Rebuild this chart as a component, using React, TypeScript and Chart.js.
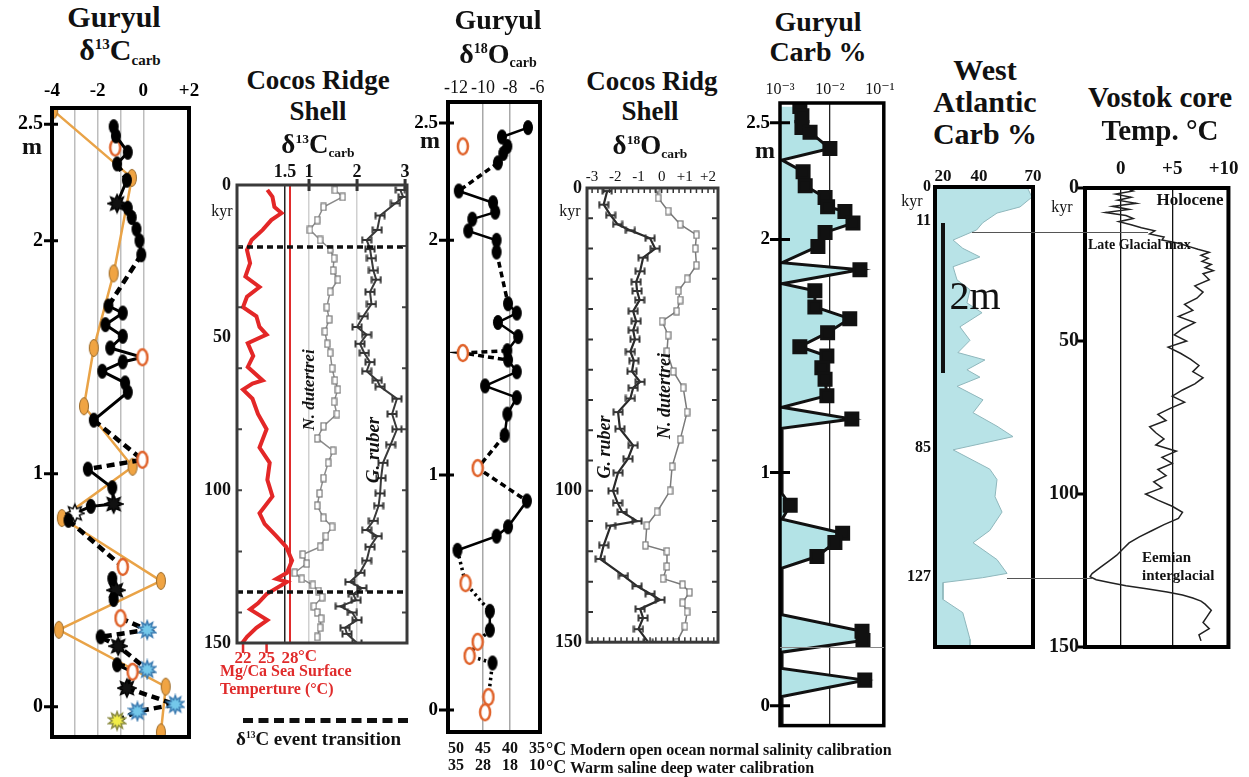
import React, { useEffect, useRef } from 'react';
import { Chart, registerables } from 'chart.js';
Chart.register(...registerables);

const SERIF = "'Liberation Serif', 'Times New Roman', 'DejaVu Serif', serif";
Chart.defaults.font.family = SERIF;

// ================= DATA =================
// Panel 1 : Guryul d13C (depth in m)
const p1SeqValue = [-1.3, -1.2, -0.68, -1.15, -0.72, -1.15, -0.68, -0.51, -0.3, -0.17, -0.09, -1.53, -0.9, -1.66, -0.9, -1.45, -0.04, -0.9, -1.8, -0.8, -0.68, -2.17, -0.04, -2.43, -1.36, -1.3, -2.3, -3.0, -3.28, -0.9, -1.36, -1.2, -1.3, -1.0, 0.17, -1.87, -1.1, 0.17, -1.15, -0.47, -0.72, 1.4, -0.26, -1.15];
const p1SeqDepth = [2.49, 2.45, 2.38, 2.33, 2.26, 2.16, 2.14, 2.1, 2.05, 2.0, 1.94, 1.72, 1.69, 1.64, 1.59, 1.54, 1.5, 1.48, 1.44, 1.39, 1.35, 1.23, 1.06, 1.02, 0.94, 0.87, 0.86, 0.83, 0.8, 0.6, 0.55, 0.5, 0.46, 0.38, 0.33, 0.3, 0.26, 0.16, 0.18, 0.15, 0.08, 0.01, -0.02, -0.06];
const p1SeqMarker = ['B', 'B', 'B', 'B', 'B', 'S', 'B', 'B', 'B', 'B', 'B', 'B', 'B', 'B', 'B', 'B', 'O', 'B', 'B', 'B', 'B', 'B', 'O', 'B', 'B', 'S', 'B', 'W', 'B', 'O', 'B', 'S', 'B', 'O', 'L', 'B', 'S', 'L', 'B', 'O', 'S', 'L', 'L', 'Y'];
const p1SeqLink = ['s', 's', 's', 'd', 's', 's', 's', 's', 's', 's', 'd', 's', 's', 's', 's', 's', 's', 's', 's', 's', 's', 'd', 'd', 's', 's', 's', 's', 's', 'd', 'n', 's', 's', 'n', 'd', 'd', 'd', 'd', 'd', 's', 's', 'd', 'd', 'd', 'n'];
const p1OrangeValue = [-3.95, -0.5, -1.3, -2.17, -2.6, -0.47, -3.57, 0.77, -3.7, 0.98, 0.77];
const p1OrangeDepth = [2.56, 2.27, 1.86, 1.54, 1.29, 1.03, 0.81, 0.54, 0.33, 0.086, -0.11];
const p1OpenValue = [-1.23];
const p1OpenDepth = [2.4];
const depthTicks = [0, 1, 2, 2.5];
const p1XTicks = [-4, -3, -2, -1, 0, 1, 2];
const p1XLabels: Record<string, string> = { '-4': '-4', '-2': '-2', '0': '0', '2': '+2' };
const p1GridAt = [-3, -2, -1, 0];

// Panel 2 : Cocos Ridge shell d13C (age kyr)
const p2SstAge = [1.6, 3.9, 7.2, 9.2, 11.5, 14.7, 18, 21.3, 25.6, 30, 33.4, 36.6, 40, 43, 46.5, 49, 51.8, 56, 59.6, 64, 65, 67, 70, 75, 80, 86, 91, 96.6, 102, 107.5, 111, 115, 118.5, 123, 127, 129, 130, 134, 137, 139, 142.5, 145, 148, 150];
const p2Sst = [25.1, 25.75, 26.0, 26.9, 25.6, 24.5, 23.1, 22.5, 22.9, 22.3, 24.1, 22.5, 22.0, 23.7, 24.1, 25.0, 22.6, 23.3, 22.6, 24.5, 23.2, 22.0, 23.2, 23.9, 25.0, 24.1, 25.4, 25.1, 25.75, 24.1, 24.75, 26.25, 27.5, 28.25, 27.6, 26.25, 27.6, 25.0, 23.9, 22.9, 25.1, 23.7, 22.5, 21.9];
const p2DutAge = [1.6, 3.9, 7.2, 11.5, 14.7, 18, 21, 24, 28, 31, 35, 40, 44, 48, 52, 55, 60, 64, 67, 71, 75, 79, 83, 87, 91, 96, 101, 105, 109, 112, 115, 118.5, 121, 124, 127, 129, 131, 133, 135, 138, 140, 142, 145, 148];
const p2Dut = [1.54, 1.7, 1.3, 1.17, 1.02, 1.23, 1.44, 1.52, 1.5, 1.6, 1.44, 1.37, 1.42, 1.33, 1.38, 1.44, 1.48, 1.54, 1.6, 1.52, 1.58, 1.3, 1.17, 1.5, 1.4, 1.3, 1.22, 1.17, 1.3, 1.48, 1.35, 1.23, 0.87, 0.95, 0.7, 0.85, 1.08, 1.2, 1.27, 1.1, 1.17, 1.25, 1.23, 1.17];
const p2RubAge = [1.6, 3.9, 6, 10, 14.7, 18, 21, 24, 28, 31, 35, 39, 43, 46.5, 49, 52, 55, 58, 61, 64, 66, 70, 75, 80, 85, 91, 96, 101, 105, 110, 113, 115, 118.5, 123, 127, 130, 132, 134, 136, 138, 140, 142.5, 145, 147, 150];
const p2Rub = [2.9, 2.96, 2.8, 2.48, 2.42, 2.2, 2.27, 2.3, 2.34, 2.4, 2.27, 2.3, 2.13, 2.0, 2.2, 2.06, 2.15, 2.27, 2.2, 2.42, 2.48, 2.83, 2.73, 2.83, 2.7, 2.54, 2.5, 2.48, 2.45, 2.34, 2.2, 2.42, 2.27, 2.2, 2.06, 1.85, 2.1, 1.92, 1.98, 1.65, 1.9, 2.0, 1.75, 1.79, 2.0];
const p2EventAges = [20.3, 133.3];
const p2XTicks = [0.5, 1, 2, 3];
const p2XLabels = ['1.5', '1', '2', '3'];
const p2SstTicks = [22, 25, 28];
const p2SstLabels = ['22', '25', '28'];
const p2AgeTicks = [0, 50, 100, 150];
const p2MinorAges = [20, 40, 60, 80, 100, 120, 140];

// Panel 3 : Guryul d18O
const p3SeqValue = [-6.67, -8.6, -8.2, -8.5, -8.9, -11.8, -9.26, -9.1, -10.8, -11.1, -9.0, -9.0, -8.15, -7.5, -8.9, -7.4, -8.2, -11.5, -8.15, -7.5, -9.85, -7.5, -8.2, -8.4, -10.4, -6.75, -8.15, -9.0, -11.9, -11.3, -9.5, -9.5, -10.4, -11.0, -9.3, -9.6, -9.85];
const p3SeqDepth = [2.48, 2.44, 2.4, 2.37, 2.33, 2.21, 2.16, 2.12, 2.09, 2.04, 2.0, 1.95, 1.73, 1.69, 1.65, 1.59, 1.53, 1.52, 1.49, 1.44, 1.38, 1.33, 1.26, 1.17, 1.03, 0.89, 0.78, 0.74, 0.68, 0.54, 0.42, 0.34, 0.29, 0.23, 0.2, 0.055, -0.01];
const p3SeqMarker = ['B', 'B', 'B', 'B', 'B', 'B', 'B', 'B', 'B', 'B', 'B', 'B', 'B', 'B', 'B', 'B', 'B', 'O', 'B', 'B', 'B', 'B', 'B', 'B', 'O', 'B', 'B', 'B', 'B', 'O', 'B', 'B', 'O', 'O', 'B', 'O', 'O'];
const p3SeqLink = ['s', 's', 's', 's', 'd', 's', 's', 's', 's', 's', 's', 'd', 's', 's', 's', 's', 'd', 'd', 's', 's', 's', 's', 's', 'd', 'd', 's', 's', 's', 't', 't', 's', 't', 't', 't', 't', 's', 'n'];
const p3OpenValue = [-11.5];
const p3OpenDepth = [2.4];
const p3XTicks = [-12, -10, -8, -6];
const p3GridAt = [-10, -8];
const p3TempTicks = [50, 45, 40, 35];
const p3TempLabels = [['50', '35'], ['45', '28'], ['40', '18'], ['35', '10']];

// Panel 4 : Cocos Ridge shell d18O
const p4RubAge = [1, 5.5, 9, 12, 14, 16.6, 20, 23, 27.5, 31, 34, 37, 40.7, 44, 47, 50, 54, 57, 60.6, 64, 66, 69.5, 74, 79.5, 85, 89.4, 94, 100, 104, 107, 110, 111.5, 118, 122.5, 128, 131.5, 134, 136, 139, 142, 145.7, 150];
const p4Rub = [-2.35, -2.5, -2.2, -1.9, -1.35, -0.5, -0.28, -0.8, -0.93, -1.1, -1.06, -0.95, -1.23, -1.1, -1.23, -1.15, -1.35, -1.2, -1.28, -0.93, -1.23, -1.35, -1.88, -1.8, -1.23, -1.45, -1.88, -2.1, -1.9, -1.7, -1.06, -2.2, -2.5, -2.65, -1.65, -1.06, -0.5, -0.07, -0.93, -0.8, -1.0, -0.58];
const p4DutAge = [0, 3.3, 7.6, 12, 15.5, 20, 25.5, 30, 34, 37, 40.7, 44, 48.6, 54, 60.6, 66, 74, 83, 92, 100, 107, 111.5, 118, 120, 125, 129, 131, 133.5, 137, 140, 144.7, 150];
const p4Dut = [-0.2, -0.15, 0.28, 0.8, 1.5, 1.45, 1.5, 1.1, 0.72, 0.8, 0.65, 0.02, 0.28, 0.23, 0.5, 0.93, 1.1, 0.8, 0.45, 0.36, -0.2, -0.64, -0.7, 0.23, 0.23, 0.06, 0.9, 1.2, 0.9, 1.1, 1.0, 0.65];
const p4XLabels: Record<string, string> = { '-3': '-3', '-2': '-2', '-1': '-1', '0': '0', '1': '+1', '2': '+2' };
const p4AgeLabels = [0, 100, 150];

// Panel 5 : Guryul Carb %
const p5Depth = [2.57, 2.53, 2.48, 2.46, 2.39, 2.34, 2.29, 2.23, 2.18, 2.14, 2.12, 2.07, 2.03, 1.97, 1.9, 1.87, 1.81, 1.78, 1.71, 1.66, 1.6, 1.54, 1.5, 1.45, 1.4, 1.33, 1.28, 1.23, 1.19, 0.91, 0.86, 0.8, 0.74, 0.7, 0.64, 0.59, 0.39, 0.32, 0.28, 0.23, 0.16, 0.11, 0.04, -0.08];
const p5Carb = [2.5e-3, 2.75e-3, 2.75e-3, 4e-3, 1e-2, 1.1e-3, 2.9e-3, 3.2e-3, 8e-3, 9e-3, 2e-2, 2.9e-2, 8e-3, 5.75e-3, 1.1e-3, 4e-2, 1.1e-3, 5e-3, 5e-3, 2.5e-2, 9e-3, 2.5e-3, 8.7e-3, 6.9e-3, 8e-3, 8.7e-3, 1.1e-3, 2.75e-2, 1.1e-3, 1.1e-3, 1.6e-3, 1.1e-3, 1.8e-2, 1.26e-2, 5.5e-3, 1.1e-3, 1.1e-3, 4.4e-2, 4.6e-2, 1.1e-3, 1.1e-3, 5e-2, 1.1e-3, 1.1e-3];
const p5XTicks = [1e-3, 1e-2, 1e-1];
const p5XLabels = ['10⁻³', '10⁻²', '10⁻¹'];

// Panel 6 : West Atlantic Carb %
const p6Age = [0, 3.3, 6.5, 8.5, 11.7, 14, 17.3, 20, 22.8, 26, 30.3, 33.5, 37.8, 41, 45.6, 50, 54, 56.4, 59.6, 62, 65, 69.4, 73.6, 78, 81.4, 85.7, 92, 95.4, 101, 106, 112, 116, 121.5, 126, 127.4, 129, 134.5, 138.8, 147.5, 150];
const p6Carb = [66.7, 69.4, 62.8, 50, 42, 38.7, 25.6, 31, 40.5, 25.6, 27.8, 35, 33.3, 41.7, 29.4, 35, 28.3, 43.3, 33.3, 40.5, 27.8, 42.2, 36.7, 50, 58.9, 25.6, 46, 50, 48.9, 52.8, 46, 36.7, 50, 55.6, 42, 20, 20, 31, 35, 35];
const p6XTicks = [20, 40, 70];
const p6AgeTicks = [0, 11, 85, 127];

// Panel 7 : Vostok temperature
const p7Age = [0, 1, 2, 3, 4, 5, 6, 7, 8, 9, 10, 11, 12, 13, 14, 15, 16, 17, 18, 19, 20, 21, 22, 23, 24, 25, 26, 27, 28, 30, 32, 34, 36, 38, 40, 42, 44, 46, 48, 50, 52, 54, 56, 58, 60, 62, 64, 66, 68, 70, 72, 74, 76, 78, 80, 82, 84, 86, 88, 90, 92, 94, 96, 98, 100, 102, 104, 106, 108, 110, 112, 114, 116, 118, 120, 122, 124, 126, 127, 128, 129, 130, 131, 132, 133, 134, 135, 136, 138, 140, 142, 144, 146, 148];
const p7Temp = [0.5, 1.2, -0.5, 1.0, -0.3, 1.5, -0.8, 0.8, -1.5, 0.5, 1.2, -0.2, 1.0, 2.0, 3.3, 2.8, 4.2, 4.0, 5.5, 6.5, 7.5, 8.6, 7.8, 8.5, 7.9, 8.8, 8.2, 9.0, 8.0, 8.6, 7.2, 8.0, 7.4, 6.2, 7.0, 5.6, 7.2, 6.0, 5.2, 6.4, 4.6, 5.8, 6.8, 7.6, 7.0, 8.0, 7.2, 6.0, 5.0, 6.2, 4.8, 3.6, 4.4, 2.8, 3.4, 4.2, 3.4, 5.4, 4.0, 5.0, 3.6, 4.4, 3.2, 4.0, 2.4, 3.6, 5.0, 6.0, 5.6, 4.2, 3.0, 1.8, 0.8, 0.2, -0.4, -1.2, -2.0, -2.8, -3.0, -2.4, -1.0, 0.5, 2.5, 4.5, 6.0, 7.0, 7.8, 8.2, 8.8, 8.4, 8.0, 8.6, 7.6, 7.8];
const p7XTicks = [0, 5, 10];
const p7XLabels = ['0', '+5', '+10'];
const ageTicks = [0, 50, 100, 150];

// ================= HELPERS =================
const zip = (xs: number[], ys: number[]) => xs.map((x, i) => ({ x, y: ys[i] }));
const setTicks = (vals: number[]) => (s: any) => { s.ticks = vals.map((v) => ({ value: v })); };
const fixW = (w: number) => (s: any) => { s.width = w; };
const fixH = (h: number) => (s: any) => { s.height = h; };
const font = (size: number, bold = true, lineHeight = 1.2) => ({ family: SERIF, size, weight: bold ? 'bold' : 'normal', lineHeight });

function mk(w: number, h: number, draw: (g: CanvasRenderingContext2D) => void) {
  const c = document.createElement('canvas');
  c.width = w; c.height = h;
  draw(c.getContext('2d') as CanvasRenderingContext2D);
  return c;
}
function starPath(g: CanvasRenderingContext2D, cx: number, cy: number, n: number, ro: number, ri: number) {
  g.beginPath();
  for (let i = 0; i < 2 * n; i++) {
    const r = i % 2 ? ri : ro;
    const a = -Math.PI / 2 + (i * Math.PI) / n;
    g.lineTo(cx + r * Math.cos(a), cy + r * Math.sin(a));
  }
  g.closePath();
}
let markerCache: any = null;
function markers() {
  if (markerCache) return markerCache;
  const ell = (w: number, h: number, rx: number, ry: number, fill: string, stroke: string | null, lw: number) =>
    mk(w, h, (g) => {
      g.beginPath(); g.ellipse(w / 2, h / 2, rx, ry, 0, 0, Math.PI * 2);
      g.fillStyle = fill; g.fill();
      if (stroke) { g.strokeStyle = stroke; g.lineWidth = lw; g.stroke(); }
    });
  const star = (fill: string, stroke: string, n: number) =>
    mk(20, 22, (g) => { starPath(g, 10, 11, n, 9, 5); g.fillStyle = fill; g.fill(); g.strokeStyle = stroke; g.lineWidth = 1.5; g.stroke(); });
  markerCache = {
    B: ell(12, 17, 5, 7.5, '#000', null, 0),
    O: ell(14, 20, 5, 8, '#fff', '#e0632b', 2.5),
    F: ell(12, 20, 4.5, 8.5, '#f0a443', '#9a6a2a', 1),
    S: star('#111', '#000', 8),
    W: star('#fff', '#000', 8),
    L: star('#74c8ea', '#3a7ab0', 10),
    Y: star('#f2ee48', '#8a8a40', 10),
    rub: mk(12, 8, (g) => {
      g.strokeStyle = '#333'; g.lineWidth = 2;
      g.beginPath(); g.moveTo(1, 4); g.lineTo(11, 4); g.moveTo(1.5, 0.5); g.lineTo(1.5, 7.5); g.moveTo(10.5, 0.5); g.lineTo(10.5, 7.5); g.stroke();
    }),
    dut: mk(7, 9, (g) => { g.fillStyle = '#fff'; g.strokeStyle = '#777'; g.lineWidth = 1.2; g.fillRect(1, 1, 5, 7); g.strokeRect(1, 1, 5, 7); }),
  };
  return markerCache;
}

type TickItem = { scale: string; edges: string[]; out: number; inn: number; values?: number[]; color: string; width: number };
function framePlugin(border: number, color: string, items: TickItem[]) {
  return {
    id: 'frame',
    afterDatasetsDraw(chart: any) {
      const { ctx, chartArea: a } = chart;
      ctx.save();
      for (const it of items) {
        const sc = chart.scales[it.scale];
        const vals = it.values || sc.ticks.map((t: any) => t.value);
        ctx.strokeStyle = it.color; ctx.lineWidth = it.width;
        ctx.beginPath();
        for (const v of vals) {
          const p = sc.getPixelForValue(v);
          for (const e of it.edges) {
            if (e === 'top') { ctx.moveTo(p, a.top - it.out); ctx.lineTo(p, a.top + it.inn); }
            if (e === 'bottom') { ctx.moveTo(p, a.bottom + it.out); ctx.lineTo(p, a.bottom - it.inn); }
            if (e === 'left') { ctx.moveTo(a.left - it.out, p); ctx.lineTo(a.left + it.inn, p); }
            if (e === 'right') { ctx.moveTo(a.right + it.out, p); ctx.lineTo(a.right - it.inn, p); }
          }
        }
        ctx.stroke();
      }
      ctx.strokeStyle = color; ctx.lineWidth = border;
      ctx.strokeRect(a.left, a.top, a.right - a.left, a.bottom - a.top);
      ctx.restore();
    },
  };
}

type Geo = { L: number; T: number; R: number; B: number; ml: number; mt: number; mr: number; mb: number };
const canvasBox = (g: Geo) => ({ left: g.L - g.ml, top: g.T - g.mt, width: g.R - g.L + g.ml + g.mr, height: g.B - g.T + g.mt + g.mb });

const noGrid = { drawOnChartArea: false, drawTicks: false };
const noBorder = { display: false };

// ================= PANEL CONFIGS =================
const G1: Geo = { L: 52, T: 108, R: 189, B: 738, ml: 50, mt: 40, mr: 20, mb: 20 };
function cfg1() {
  const m = markers();
  return {
    type: 'scatter',
    data: {
      datasets: [
        {
          data: zip(p1SeqValue, p1SeqDepth), showLine: true, borderColor: '#000', borderWidth: 3, order: 1,
          pointStyle: (c: any) => m[p1SeqMarker[c.dataIndex]], pointRadius: 5,
          segment: {
            borderDash: (c: any) => (p1SeqLink[c.p0DataIndex] === 'd' ? [8, 5] : undefined),
            borderWidth: (c: any) => (p1SeqLink[c.p0DataIndex] === 'd' ? 4.5 : undefined),
            borderColor: (c: any) => (p1SeqLink[c.p0DataIndex] === 'n' ? 'rgba(0,0,0,0)' : undefined),
          },
        },
        { data: zip(p1OpenValue, p1OpenDepth), pointStyle: m.O, pointRadius: 5, order: 2 },
        { data: zip(p1OrangeValue, p1OrangeDepth), showLine: true, borderColor: '#e9a347', borderWidth: 2.5, pointStyle: m.F, pointRadius: 5, order: 3 },
      ],
    },
    options: {
      responsive: false, animation: false, events: [],
      layout: { padding: { left: 0, top: 0, right: G1.mr, bottom: G1.mb } },
      plugins: { legend: { display: false }, tooltip: { enabled: false } },
      scales: {
        x: {
          type: 'linear', position: 'top', min: -4, max: 2, afterBuildTicks: setTicks(p1XTicks), afterFit: fixH(G1.mt),
          ticks: { callback: (v: number) => p1XLabels[String(v)] ?? '', font: font(19), color: '#000', padding: 6, maxRotation: 0, autoSkip: false },
          grid: { color: (c: any) => (c.tick && p1GridAt.includes(c.tick.value) ? '#bdbdbd' : 'rgba(0,0,0,0)'), lineWidth: 1.5, drawTicks: false },
          border: noBorder,
        },
        y: {
          type: 'linear', min: -0.13, max: 2.57, afterBuildTicks: setTicks(depthTicks), afterFit: fixW(G1.ml),
          ticks: { font: font(20), color: '#000', padding: 9, autoSkip: false },
          grid: noGrid, border: noBorder,
        },
      },
    },
    plugins: [framePlugin(4, '#000', [{ scale: 'y', edges: ['left'], out: 8, inn: 6, color: '#000', width: 3 }])],
  };
}

const G2: Geo = { L: 237, T: 185, R: 407, B: 643, ml: 40, mt: 25, mr: 15, mb: 34 };
function cfg2() {
  const m = markers();
  return {
    type: 'scatter',
    data: {
      datasets: [
        ...p2EventAges.map((a) => ({ data: [{ x: -0.5, y: a }, { x: 3.04, y: a }], showLine: true, borderColor: '#111', borderWidth: 3.5, borderDash: [6, 4], pointRadius: 0, order: 0 })),
        { data: zip(p2Sst, p2SstAge), xAxisID: 'x2', showLine: true, borderColor: '#e32727', borderWidth: 4, pointRadius: 0, order: 1 },
        { data: zip(p2Rub, p2RubAge), showLine: true, borderColor: '#3a3a3a', borderWidth: 2, pointStyle: m.rub, pointRadius: 4, order: 2 },
        { data: zip(p2Dut, p2DutAge), showLine: true, borderColor: '#8a8a8a', borderWidth: 1.5, pointStyle: m.dut, pointRadius: 3, order: 3 },
      ],
    },
    options: {
      responsive: false, animation: false, events: [],
      layout: { padding: { left: 0, top: 0, right: G2.mr, bottom: 0 } },
      plugins: { legend: { display: false }, tooltip: { enabled: false } },
      scales: {
        x: {
          type: 'linear', position: 'top', min: -0.5, max: 3.04, afterBuildTicks: setTicks(p2XTicks), afterFit: fixH(G2.mt),
          ticks: { callback: (_v: number, i: number) => p2XLabels[i], font: font(18), color: '#111', padding: 2, maxRotation: 0, autoSkip: false },
          grid: {
            color: (c: any) => (!c.tick ? 'rgba(0,0,0,0)' : c.tick.value === 0.5 ? '#222' : c.tick.value < 3 ? '#d0d0d0' : 'rgba(0,0,0,0)'),
            lineWidth: 1.5, drawTicks: false,
          },
          border: noBorder,
        },
        x2: {
          type: 'linear', position: 'bottom', min: 21.23, max: 42.9, afterBuildTicks: setTicks(p2SstTicks), afterFit: fixH(G2.mb),
          ticks: { callback: (_v: number, i: number) => p2SstLabels[i], font: font(17), color: '#e02b2b', padding: 5, maxRotation: 0, autoSkip: false },
          grid: { color: (c: any) => (c.tick && c.tick.value === 28 ? '#e02b2b' : 'rgba(0,0,0,0)'), lineWidth: 2, drawTicks: false },
          border: noBorder,
        },
        y: {
          type: 'linear', reverse: true, min: 0, max: 150, afterBuildTicks: setTicks(p2AgeTicks), afterFit: fixW(G2.ml),
          ticks: { font: font(18), color: '#111', padding: 6, autoSkip: false },
          grid: noGrid, border: noBorder,
        },
      },
    },
    plugins: [framePlugin(3, '#3a3a3a', [
      { scale: 'x', edges: ['top'], out: 6, inn: 6, values: [1, 2, 3], color: '#333', width: 3 },
      { scale: 'x2', edges: ['bottom'], out: 10, inn: 0, values: [22, 25], color: '#e02b2b', width: 2.5 },
      { scale: 'y', edges: ['left', 'right'], out: 0, inn: 5, values: p2MinorAges, color: '#444', width: 2 },
    ])],
  };
}

const G3: Geo = { L: 448, T: 102, R: 540, B: 732, ml: 48, mt: 30, mr: 15, mb: 45 };
function cfg3() {
  const m = markers();
  return {
    type: 'scatter',
    data: {
      datasets: [
        {
          data: zip(p3SeqValue, p3SeqDepth), showLine: true, borderColor: '#000', borderWidth: 2.5,
          pointStyle: (c: any) => m[p3SeqMarker[c.dataIndex]], pointRadius: 5,
          segment: {
            borderDash: (c: any) => (p3SeqLink[c.p0DataIndex] === 'd' ? [6, 4] : p3SeqLink[c.p0DataIndex] === 't' ? [2.5, 3.5] : undefined),
            borderWidth: (c: any) => (p3SeqLink[c.p0DataIndex] === 'd' || p3SeqLink[c.p0DataIndex] === 't' ? 3.5 : undefined),
            borderColor: (c: any) => (p3SeqLink[c.p0DataIndex] === 'n' ? 'rgba(0,0,0,0)' : undefined),
          },
        },
        { data: zip(p3OpenValue, p3OpenDepth), pointStyle: m.O, pointRadius: 5 },
      ],
    },
    options: {
      responsive: false, animation: false, events: [],
      layout: { padding: { left: 0, top: 0, right: G3.mr, bottom: 0 } },
      plugins: { legend: { display: false }, tooltip: { enabled: false } },
      scales: {
        x: {
          type: 'linear', position: 'top', min: -12.6, max: -5.78, afterBuildTicks: setTicks(p3XTicks), afterFit: fixH(G3.mt),
          ticks: { font: font(18, false), color: '#111', padding: 3, maxRotation: 0, autoSkip: false },
          grid: { color: (c: any) => (c.tick && p3GridAt.includes(c.tick.value) ? '#a8a8a8' : 'rgba(0,0,0,0)'), lineWidth: 1.5, drawTicks: false },
          border: noBorder,
        },
        x2: {
          type: 'linear', position: 'bottom', reverse: true, min: 34.45, max: 51.5, afterBuildTicks: setTicks(p3TempTicks), afterFit: fixH(G3.mb),
          ticks: { callback: (_v: number, i: number) => p3TempLabels[i], font: font(16, true, 1.08), color: '#111', padding: 8, maxRotation: 0, autoSkip: false },
          grid: noGrid, border: noBorder,
        },
        y: {
          type: 'linear', min: -0.094, max: 2.589, afterBuildTicks: setTicks(depthTicks), afterFit: fixW(G3.ml),
          ticks: { font: font(19), color: '#000', padding: 10, autoSkip: false },
          grid: noGrid, border: noBorder,
        },
      },
    },
    plugins: [framePlugin(4, '#000', [{ scale: 'y', edges: ['left'], out: 9, inn: 6, color: '#000', width: 3 }])],
  };
}

const G4: Geo = { L: 587, T: 188, R: 718, B: 643, ml: 40, mt: 22, mr: 15, mb: 15 };
function cfg4() {
  const m = markers();
  return {
    type: 'scatter',
    data: {
      datasets: [
        { data: zip(p4Rub, p4RubAge), showLine: true, borderColor: '#2a2a2a', borderWidth: 2.2, pointStyle: m.rub, pointRadius: 4 },
        { data: zip(p4Dut, p4DutAge), showLine: true, borderColor: '#7a7a7a', borderWidth: 1.5, pointStyle: m.dut, pointRadius: 3 },
      ],
    },
    options: {
      responsive: false, animation: false, events: [],
      layout: { padding: { left: 0, top: 0, right: G4.mr, bottom: G4.mb } },
      plugins: { legend: { display: false }, tooltip: { enabled: false } },
      scales: {
        x: {
          type: 'linear', position: 'top', min: -3.22, max: 2.43, afterFit: fixH(G4.mt),
          afterBuildTicks: (s: any) => { const t = []; for (let v = -3; v <= 2.3; v += 0.25) t.push({ value: Math.round(v * 100) / 100 }); s.ticks = t; },
          ticks: { callback: (v: number) => p4XLabels[String(v)] ?? '', font: font(15, false), color: '#111', padding: 2, maxRotation: 0, autoSkip: false },
          grid: noGrid, border: noBorder,
        },
        y: {
          type: 'linear', reverse: true, min: 0, max: 150, afterFit: fixW(G4.ml),
          afterBuildTicks: (s: any) => { const t = []; for (let v = 0; v <= 150; v += 10) t.push({ value: v }); s.ticks = t; },
          ticks: { callback: (v: number) => (p4AgeLabels.includes(v) ? String(v) : ''), font: font(18), color: '#111', padding: 5, autoSkip: false },
          grid: noGrid, border: noBorder,
        },
      },
    },
    plugins: [framePlugin(3, '#3a3a3a', [
      { scale: 'x', edges: ['top', 'bottom'], out: 0, inn: 5, color: '#333', width: 1.5 },
      { scale: 'y', edges: ['left', 'right'], out: 0, inn: 6, color: '#333', width: 2 },
    ])],
  };
}

const G5: Geo = { L: 780, T: 103, R: 884, B: 732, ml: 45, mt: 30, mr: 15, mb: 15 };
function cfg5() {
  return {
    type: 'scatter',
    data: {
      datasets: [
        {
          data: zip(p5Carb, p5Depth), showLine: true, borderColor: '#111', borderWidth: 3,
          fill: { value: 1e-3 }, backgroundColor: '#b3e3e6',
          pointStyle: 'rect', pointBackgroundColor: '#111', pointBorderColor: '#111',
          pointRadius: (c: any) => (c.raw && c.raw.x > 1.2e-3 ? 8.5 : 0),
        },
      ],
    },
    options: {
      responsive: false, animation: false, events: [], indexAxis: 'y',
      layout: { padding: { left: 0, top: 0, right: G5.mr, bottom: G5.mb } },
      plugins: { legend: { display: false }, tooltip: { enabled: false }, filler: { propagate: false } },
      scales: {
        x: {
          type: 'logarithmic', position: 'top', min: 1e-3, max: 0.1202, afterBuildTicks: setTicks(p5XTicks), afterFit: fixH(G5.mt),
          ticks: { callback: (_v: number, i: number) => p5XLabels[i], font: font(16, false), color: '#111', padding: 4, maxRotation: 0, autoSkip: false },
          grid: { color: (c: any) => (c.tick && c.tick.value === 1e-2 ? '#222' : 'rgba(0,0,0,0)'), lineWidth: 1.3, drawTicks: false },
          border: noBorder,
        },
        y: {
          type: 'linear', min: -0.085, max: 2.585, afterBuildTicks: setTicks(depthTicks), afterFit: fixW(G5.ml),
          ticks: { font: font(19), color: '#000', padding: 10, autoSkip: false },
          grid: noGrid, border: noBorder,
        },
      },
    },
    plugins: [framePlugin(3.5, '#000', [{ scale: 'y', edges: ['left'], out: 10, inn: 10, color: '#000', width: 3 }])],
  };
}

const G6: Geo = { L: 935, T: 187, R: 1033, B: 647, ml: 35, mt: 22, mr: 15, mb: 15 };
function cfg6() {
  return {
    type: 'scatter',
    data: {
      datasets: [
        { data: zip(p6Carb, p6Age), showLine: true, borderColor: '#8fb7bc', borderWidth: 1, fill: { value: 15.56 }, backgroundColor: '#b8e3e7', pointRadius: 0 },
      ],
    },
    options: {
      responsive: false, animation: false, events: [], indexAxis: 'y',
      layout: { padding: { left: 0, top: 0, right: G6.mr, bottom: G6.mb } },
      plugins: { legend: { display: false }, tooltip: { enabled: false } },
      scales: {
        x: {
          type: 'linear', position: 'top', min: 15.56, max: 70, afterBuildTicks: setTicks(p6XTicks), afterFit: fixH(G6.mt),
          ticks: { font: font(17), color: '#111', padding: 0, maxRotation: 0, autoSkip: false },
          grid: noGrid, border: noBorder,
        },
        y: {
          type: 'linear', reverse: true, min: 0, max: 150, afterBuildTicks: setTicks(p6AgeTicks), afterFit: fixW(G6.ml),
          ticks: { font: font(16), color: '#111', padding: 4, autoSkip: false },
          grid: noGrid, border: noBorder,
        },
      },
    },
    plugins: [framePlugin(4, '#000', [])],
  };
}

const G7: Geo = { L: 1085, T: 188, R: 1233, B: 650, ml: 45, mt: 28, mr: 14, mb: 15 };
function cfg7() {
  return {
    type: 'scatter',
    data: {
      datasets: [{ data: zip(p7Temp, p7Age), showLine: true, borderColor: '#222', borderWidth: 1.5, pointRadius: 0 }],
    },
    options: {
      responsive: false, animation: false, events: [],
      layout: { padding: { left: 0, top: 0, right: G7.mr, bottom: G7.mb } },
      plugins: { legend: { display: false }, tooltip: { enabled: false } },
      scales: {
        x: {
          type: 'linear', position: 'top', min: -3.49, max: 10.47, afterBuildTicks: setTicks(p7XTicks), afterFit: fixH(G7.mt),
          ticks: { callback: (_v: number, i: number) => p7XLabels[i], font: font(19), color: '#111', padding: 8, maxRotation: 0, autoSkip: false },
          grid: { color: (c: any) => (c.tick && c.tick.value < 10 ? '#111' : 'rgba(0,0,0,0)'), lineWidth: 1.3, drawTicks: false },
          border: noBorder,
        },
        y: {
          type: 'linear', reverse: true, min: 0, max: 150, afterBuildTicks: setTicks(ageTicks), afterFit: fixW(G7.ml),
          ticks: { font: font(20), color: '#111', padding: 6, autoSkip: false },
          grid: noGrid, border: noBorder,
        },
      },
    },
    plugins: [framePlugin(4, '#000', [{ scale: 'y', edges: ['left'], out: 7, inn: 0, color: '#000', width: 3 }])],
  };
}

// ================= COMPONENTS =================
function Panel({ geo, make }: { geo: Geo; make: () => any }) {
  const ref = useRef<HTMLCanvasElement | null>(null);
  const box = canvasBox(geo);
  useEffect(() => {
    const chart = new Chart(ref.current as HTMLCanvasElement, make());
    return () => chart.destroy();
  }, []);
  return <canvas ref={ref} width={box.width} height={box.height} style={{ position: 'absolute', left: box.left, top: box.top, width: box.width, height: box.height }} />;
}

function Txt(props: { x: number; y: number; size?: number; bold?: boolean; italic?: boolean; color?: string; align?: string; rotate?: number; children: any }) {
  const { x, y, size = 18, bold = true, italic = false, color = '#111', align = 'center', rotate = 0, children } = props;
  const tx = align === 'center' ? '-50%' : align === 'right' ? '-100%' : '0';
  return (
    <div style={{ position: 'absolute', left: x, top: y, transform: `translate(${tx}, -50%) rotate(${rotate}deg)`, fontFamily: SERIF, fontSize: size, fontWeight: bold ? 700 : 400, fontStyle: italic ? 'italic' : 'normal', color, whiteSpace: 'nowrap', lineHeight: 1 }}>
      {children}
    </div>
  );
}
const Sup = ({ c }: { c: string }) => <span style={{ fontSize: '0.5em', position: 'relative', top: '-0.75em' }}>{c}</span>;
const Sub = ({ c }: { c: string }) => <span style={{ fontSize: '0.5em', position: 'relative', top: '0.3em' }}>{c}</span>;
const Line = ({ x, y, w, h, color }: { x: number; y: number; w: number; h: number; color: string }) => (
  <div style={{ position: 'absolute', left: x, top: y, width: w, height: h, background: color }} />
);

export default function App() {
  return (
    <div style={{ position: 'absolute', left: 0, top: 0, width: 1249, height: 777, background: '#fff', overflow: 'hidden' }}>
      <Panel geo={G6} make={cfg6} />
      <Panel geo={G7} make={cfg7} />
      <Panel geo={G1} make={cfg1} />
      <Panel geo={G2} make={cfg2} />
      <Panel geo={G3} make={cfg3} />
      <Panel geo={G4} make={cfg4} />
      <Panel geo={G5} make={cfg5} />

      {/* titles */}
      <Txt x={114} y={17} size={30}>Guryul</Txt>
      <Txt x={120} y={50} size={30}>δ<Sup c="13" />C<Sub c="carb" /></Txt>
      <Txt x={318} y={80} size={27}>Cocos Ridge</Txt>
      <Txt x={318} y={111} size={27}>Shell</Txt>
      <Txt x={318} y={144} size={27}>δ<Sup c="13" />C<Sub c="carb" /></Txt>
      <Txt x={498} y={20} size={28}>Guryul</Txt>
      <Txt x={498} y={54} size={28}>δ<Sup c="18" />O<Sub c="carb" /></Txt>
      <Txt x={652} y={81} size={27}>Cocos Ridg</Txt>
      <Txt x={650} y={111} size={27}>Shell</Txt>
      <Txt x={650} y={145} size={27}>δ<Sup c="18" />O<Sub c="carb" /></Txt>
      <Txt x={818} y={22} size={28}>Guryul</Txt>
      <Txt x={818} y={52} size={28}>Carb %</Txt>
      <Txt x={985} y={70} size={30}>West</Txt>
      <Txt x={985} y={102} size={30}>Atlantic</Txt>
      <Txt x={985} y={134} size={30}>Carb %</Txt>
      <Txt x={1160} y={97} size={29}>Vostok core</Txt>
      <Txt x={1160} y={130} size={29}>Temp. °C</Txt>

      {/* axis unit labels */}
      <Txt x={32} y={146} size={24}>m</Txt>
      <Txt x={430} y={140} size={24}>m</Txt>
      <Txt x={765} y={150} size={24}>m</Txt>
      <Txt x={222} y={211} size={16} bold={false}>kyr</Txt>
      <Txt x={570} y={211} size={16} bold={false}>kyr</Txt>
      <Txt x={912} y={201} size={16} bold={false}>kyr</Txt>
      <Txt x={1062} y={207} size={16} bold={false}>kyr</Txt>

      {/* species labels */}
      <Txt x={308} y={390} size={17} italic rotate={-90}>N. dutertrei</Txt>
      <Txt x={372} y={450} size={19} italic rotate={-90}>G. ruber</Txt>
      <Txt x={604} y={447} size={18} italic rotate={-90}>G. ruber</Txt>
      <Txt x={664} y={396} size={18} italic rotate={-90}>N. dutertrei</Txt>

      {/* panel 2 captions */}
      <Txt x={298} y={655} size={17} color="#e02b2b" align="left">°C</Txt>
      <Txt x={220} y={671} size={16} color="#e02b2b" align="left">Mg/Ca Sea Surface</Txt>
      <Txt x={220} y={689} size={16} color="#e02b2b" align="left">Temperture (°C)</Txt>
      <div style={{ position: 'absolute', left: 243, top: 718, width: 165, borderTop: '5px dashed #111' }} />
      <Txt x={236} y={738} size={19} align="left">δ<Sup c="13" />C event transition</Txt>

      {/* calibration captions */}
      <Txt x={546} y={749} size={16} align="left"><span style={{ fontSize: 18 }}>°C</span> Modern open ocean normal salinity calibration</Txt>
      <Txt x={546} y={767} size={16} align="left"><span style={{ fontSize: 18 }}>°C</span> Warm saline deep water calibration</Txt>

      {/* West Atlantic scale bar */}
      <Line x={941} y={223} w={4} h={150} color="#111" />
      <Txt x={975} y={296} size={40} bold={false}>2m</Txt>

      {/* correlation lines */}
      <Line x={972} y={232} w={176} h={1} color="#555" />
      <Line x={1007} y={578} w={85} h={1} color="#555" />
      <Line x={780} y={647} w={104} h={1} color="#888" />

      {/* Vostok annotations */}
      <Txt x={1190} y={199} size={17}>Holocene</Txt>
      <Txt x={1088} y={245} size={14} align="left">Late Glacial max</Txt>
      <Txt x={1142} y={557} size={15} align="left">Eemian</Txt>
      <Txt x={1142} y={575} size={15} align="left">interglacial</Txt>
    </div>
  );
}
